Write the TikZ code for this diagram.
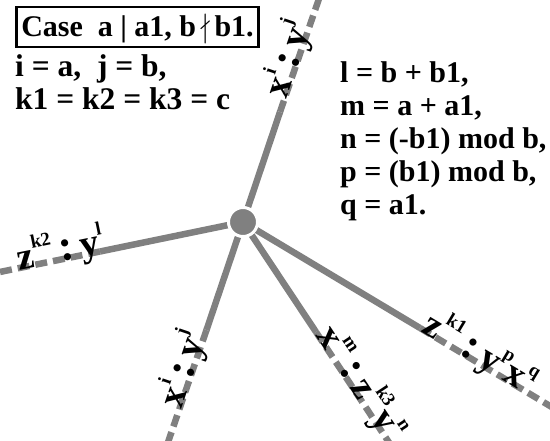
\documentclass[tikz,border=0pt]{standalone}
\usepackage{amssymb}
\usepackage{fontspec}
\setmainfont{Liberation Serif}
\usetikzlibrary{positioning}

\newcommand{\hi}[1]{\raisebox{0.5em}{\fontsize{19}{19}\selectfont #1}}
\newcommand{\cln}{\,{\fontsize{44}{44}\selectfont :}\,}

\begin{document}
\begin{tikzpicture}[
        x=1pt, y=-1pt,
        spoke/.style={draw=gray, line width=6.5pt},
        spokedash/.style={spoke, dash pattern=on 12pt off 6pt},
        hub/.style={
            circle,
            fill=gray,
            draw=white,
            line width=3pt,
            minimum size=29pt,
            inner sep=0pt
        },
        txt/.style={font=\fontsize{30}{33}\selectfont\bfseries, inner sep=0pt},
        lbl/.style={font=\fontsize{38}{38}\selectfont\bfseries, inner sep=0pt, anchor=mid}
    ]
        \useasboundingbox (0,0) rectangle (550,441);
        \fill[white] (0,0) rectangle (550,441);

        % hub and spoke ends
        \coordinate (o) at (243,222);
        \coordinate (tb) at (280,112);
        \coordinate (te) at (322,-10);
        \coordinate (lb) at (100,251.5);
        \coordinate (le) at (-10,274);
        \coordinate (db) at (206.5,330);
        \coordinate (de) at (165,451);
        \coordinate (sb) at (316,332);
        \coordinate (se) at (394.6,451);
        \coordinate (rb) at (420,328);
        \coordinate (re) at (560,412);

        \begin{scope}
            \clip (0,0) rectangle (550,441);
            \draw[spoke] (o) -- (tb);
            \draw[spokedash] (tb) -- (te);
            \draw[spoke] (o) -- (lb);
            \draw[spokedash] (lb) -- (le);
            \draw[spoke] (o) -- (db);
            \draw[spokedash] (db) -- (de);
            \draw[spoke] (o) -- (sb);
            \draw[spokedash] (sb) -- (se);
            \draw[spoke] (o) -- (rb);
            \draw[spokedash] (rb) -- (re);
        \end{scope}
        \node[hub] (c) at (o) {};

        % labels along the spokes
        \node[lbl, rotate=71.3] (ltop) at (297,62) {x\hi{i}\cln y\hi{j}};
        \node[lbl, rotate=11.6] (lleft) at (62,259.3) {z\hi{k2}\cln y\hi{l}};
        \node[lbl, rotate=71.3] (ldown) at (192,372) {x\hi{i}\cln y\hi{j}};
        \node[lbl, rotate=-56.5] (lmid) at (353,388) {x\hi{m}\cln z\hi{k3}y\hi{n}};
        \node[lbl, rotate=-31] (lright) at (475,361) {z\hi{k1}\cln y\hi{p}x\hi{q}};

        % case and definitions
        \node[txt, draw, line width=2.5pt, inner xsep=5pt, inner ysep=6pt,
            text height=24pt, text depth=4pt, anchor=base west] (case) at (15,37)
            {Case\ \ a | a1, b\,$\nmid$\,b1.};
        \node[txt, anchor=base west, font=\fontsize{31.5}{33}\selectfont\bfseries] (defi) at (15,77) {i = a,\ \ j = b,};
        \node[txt, anchor=base west, font=\fontsize{31.5}{33}\selectfont\bfseries] (defk) at (15,110) {k1 = k2 = k3 = c};
        \node[txt, anchor=base west] (defl) at (340,83) {l = b + b1,};
        \node[txt, anchor=base west] (defm) at (340,116) {m = a + a1,};
        \node[txt, anchor=base west] (defn) at (340,149) {n = (-b1) mod b,};
        \node[txt, anchor=base west] (defp) at (340,182) {p = (b1) mod b,};
        \node[txt, anchor=base west] (defq) at (340,215) {q = a1.};
    \end{tikzpicture}
\end{document}
